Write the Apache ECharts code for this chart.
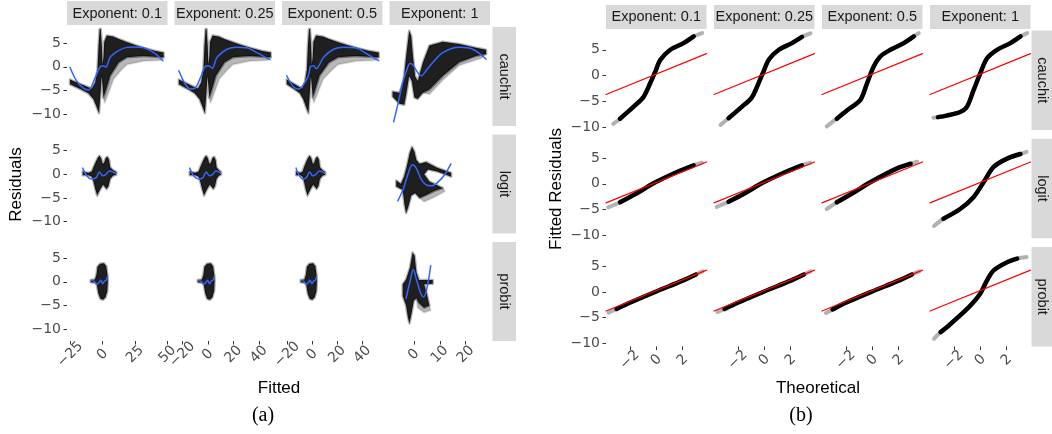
<!DOCTYPE html>
<html><head><meta charset="utf-8">
<script src="https://cdn.jsdelivr.net/npm/echarts@6/dist/echarts.min.js"></script>
<style>html,body{margin:0;padding:0;background:#fff}#c{width:1052px;height:434px}</style>
</head><body><div id="c"></div>
<script>
// ---------- labels & ticks ----------
const exponentLabels = ['Exponent: 0.1', 'Exponent: 0.25', 'Exponent: 0.5', 'Exponent: 1'];
const linkLabels = ['cauchit', 'logit', 'probit'];
const fittedTicks = [[-25, 0, 25, 50], [-20, 0, 20, 40], [-20, 0, 20, 40], [0, 10, 20]];
const residualTicks = [-10, -5, 0, 5];
const theoreticalTicks = [-2, 0, 2];

// ---------- (a) residual clouds (outline of the dense point cloud) ----------
const cauchitCloud01 = [[-25.2,-2.7],[-17.4,-3.6],[-11,-4.3],[-8.4,-4.6],[-5.8,-3.3],[-4.0,-0.5],[-3.2,4.4],[-2.3,8.0],[-1.5,8.0],[-0.6,4.4],[-0.1,0.5],[0.6,2.0],[1.2,5.3],[3.2,6.6],[8,6.4],[12,5.9],[19,5.2],[25,4.6],[32,4.0],[40,3.4],[47,3.0],[47,2.0],[40,2.1],[31.6,2.3],[18.7,2.0],[12.3,0.9],[5.8,-1.9],[1.9,-5.5],[0.6,-6.5],[-0.1,-4],[-0.8,-2],[-1.5,-5],[-2.8,-9.8],[-4.5,-8.6],[-7.1,-6.85],[-11,-5.6],[-17.4,-4.7],[-25.2,-3.7]];
const cauchitCloud025 = [[-22.7,-2.7],[-15.8,-3.6],[-10.3,-4.3],[-7.8,-4.6],[-5.3,-3.3],[-3.5,-0.5],[-2.7,4.4],[-1.8,8.0],[-1.0,8.0],[-0.1,4.4],[0.4,0.5],[1.1,2.0],[1.7,5.3],[3.7,6.6],[8.5,6.4],[12.6,5.9],[19.9,5.2],[26.2,4.6],[33.5,4.0],[41.8,3.4],[49.2,3.0],[49.2,2.0],[41.8,2.1],[33,2.3],[19.6,2.0],[12.9,0.9],[6.3,-1.9],[2.4,-5.5],[1.1,-6.5],[0.4,-4],[-0.3,-2],[-1.0,-5],[-2.3,-9.8],[-4.0,-8.6],[-6.5,-6.85],[-10.3,-5.6],[-15.8,-4.7],[-22.7,-3.7]];
const cauchitCloud05 = [[-20.2,-2.7],[-14.5,-3.6],[-9.8,-4.3],[-8.0,-4.6],[-5.8,-3.3],[-4.2,-0.5],[-3.4,4.4],[-2.5,8.0],[-1.7,8.0],[-0.8,4.4],[-0.3,0.5],[0.4,2.0],[1.0,5.3],[3.1,6.6],[8.5,6.4],[13,5.9],[20.9,5.2],[27.8,4.6],[35.8,4.0],[44.8,3.4],[53,3.0],[53,2.0],[44.8,2.1],[35.3,2.3],[20.6,2.0],[13.4,0.9],[5.8,-1.9],[1.7,-5.5],[0.4,-6.5],[-0.3,-4],[-1.0,-2],[-1.7,-5],[-3.0,-9.8],[-4.7,-8.6],[-7.1,-6.85],[-9.8,-5.6],[-14.5,-4.7],[-20.2,-3.7]];
const cauchitCloud1 = [[-8.2,-5.2],[-5.6,-5.5],[-4,-3],[-2.8,3],[-1.8,7.6],[-1.0,6.5],[-0.3,2],[0.5,-2],[1.5,-3],[3.5,0.9],[6,4.5],[11.2,5.3],[17.6,4.8],[24,4.0],[27.9,3.6],[27.9,2.7],[24,2.3],[17.6,1.0],[11.2,-1.9],[6,-4.8],[3.5,-5.5],[1.5,-6.8],[0.2,-6.5],[-0.8,-3],[-1.8,-2],[-3,-6],[-3.7,-8.0],[-5.6,-7.8],[-8.2,-6.3]];
const cauchitHalo01 = [[0.6,-6.5],[1.9,-5.5],[5.8,-1.9],[12.3,0.9],[18.7,2.0],[31.6,2.3],[47,2.0],[45,1.4],[31.6,1.2],[18.7,0.5],[15,-0.5],[8.4,-2.6],[3.2,-6.5],[1.5,-7.6]];
const cauchitHalo025 = [[1.1,-6.5],[2.4,-5.5],[6.3,-1.9],[12.9,0.9],[19.6,2.0],[33,2.3],[49.2,2.0],[47,1.4],[33,1.2],[19.6,0.5],[15.7,-0.5],[8.9,-2.6],[3.7,-6.5],[2.0,-7.6]];
const cauchitHalo05 = [[0.4,-6.5],[1.7,-5.5],[5.8,-1.9],[13.4,0.9],[20.6,2.0],[35.3,2.3],[53,2.0],[50.6,1.4],[35.3,1.2],[20.6,0.5],[16.5,-0.5],[8.8,-2.6],[3.0,-6.5],[1.3,-7.6]];
const cauchitHalo1 = [[3.5,-5.5],[6,-4.8],[11.2,-1.9],[17.6,1.0],[24,2.3],[27.9,2.7],[26,1.8],[17.6,0.3],[11.2,-2.8],[6,-5.8]];

const logitCloud01 = [[-15.4,0.6],[-11,0.3],[-8.4,0.6],[-7.1,1.5],[-5,2.8],[-3.5,3.6],[-2.5,3.9],[-1.2,3.4],[0,2.2],[1,2.4],[2.5,3.5],[3.7,3.7],[5,3.0],[5.8,1.5],[7.9,0.9],[10.5,0.5],[10.5,-0.1],[7.9,-0.3],[5.8,-1.0],[4.5,-2.5],[3,-3.1],[1.5,-2.6],[0.3,-2.2],[-1.5,-3.0],[-3,-3.8],[-4.2,-4.5],[-5.5,-3.3],[-7.1,-1.5],[-8.4,-0.5],[-11,-0.2],[-15.4,-0.2]];
const logitCloud025 = [[-14.2,0.6],[-10,0.3],[-7.3,0.6],[-6,1.5],[-3.9,2.8],[-2.4,3.6],[-1.3,3.9],[0,3.4],[1.2,2.2],[2.2,2.4],[3.7,3.5],[4.9,3.7],[6.1,3.0],[6.8,1.5],[8.5,0.9],[10.3,0.5],[10.3,-0.1],[8.5,-0.3],[6.8,-1.0],[5.6,-2.5],[4.2,-3.1],[2.7,-2.6],[1.5,-2.2],[-0.3,-3.0],[-1.8,-3.8],[-3,-4.5],[-4.3,-3.3],[-6,-1.5],[-7.3,-0.5],[-10,-0.2],[-14.2,-0.2]];
const logitCloud05 = [[-12.8,0.6],[-9.5,0.3],[-7.6,0.6],[-6.5,1.5],[-4.5,2.8],[-3,3.6],[-2,3.9],[-0.7,3.4],[0.5,2.2],[1.5,2.4],[3,3.5],[4.2,3.7],[5.5,3.0],[6.2,1.5],[8.2,0.9],[10.4,0.5],[10.4,-0.1],[8.2,-0.3],[6.2,-1.0],[5,-2.5],[3.5,-3.1],[2,-2.6],[0.8,-2.2],[-1,-3.0],[-2.5,-3.8],[-3.7,-4.5],[-5,-3.3],[-6.5,-1.5],[-7.6,-0.5],[-9.5,-0.2],[-12.8,-0.2]];
const logitCloud1 = [[-6.8,-1.3],[-5,-2],[-3.8,-0.5],[-2.8,1.5],[-1.6,4.5],[-0.7,5.8],[0.2,4.8],[1,3],[2.2,2.2],[4.7,2.6],[9,1.4],[14.4,0.3],[14.4,-0.5],[9,0.6],[5.5,1.0],[4,0],[6,-1.5],[9,-2.3],[11.2,-2.9],[8,-3.5],[5,-4.3],[2.2,-5.0],[0.5,-4],[-1,-4.5],[-2.2,-7],[-3,-8.2],[-3.6,-6.5],[-4.3,-3.3],[-6.8,-2.6]];
const logitHalo1 = [[2.2,-5.0],[5,-4.3],[8,-3.5],[11.2,-2.9],[12,-3.6],[8,-4.8],[4,-5.8]];

const probitCloud01 = [[-9.2,0.4],[-6,0.5],[-4.8,1.5],[-4,3.2],[-2,3.8],[1.0,3.9],[2.8,3.3],[3.7,1.5],[4.0,0.2],[3.6,-2],[2.2,-3.3],[0.3,-3.8],[-1.8,-3.6],[-3.3,-2.5],[-4.6,-0.5],[-6,-0.2],[-9.2,-0.1]];
const probitCloud025 = [[-7.9,0.4],[-4.7,0.5],[-3.5,1.5],[-2.7,3.2],[-0.7,3.8],[2.3,3.9],[4.1,3.3],[5,1.5],[5.3,0.2],[4.9,-2],[3.5,-3.3],[1.6,-3.8],[-0.5,-3.6],[-2,-2.5],[-3.3,-0.5],[-4.7,-0.2],[-7.9,-0.1]];
const probitCloud05 = [[-9.1,0.4],[-6.2,0.5],[-5,1.5],[-4.2,3.2],[-2.2,3.8],[0.8,3.9],[2.6,3.3],[3.5,1.5],[3.8,0.2],[3.4,-2],[2,-3.3],[0.1,-3.8],[-2,-3.6],[-3.5,-2.5],[-4.8,-0.5],[-6.2,-0.2],[-9.1,-0.1]];
const probitCloud1 = [[-4.3,-0.5],[-3,0.5],[-1.5,3],[-0.5,6.2],[0.3,5.5],[1,2],[2,0.4],[4,0.4],[7.3,0.4],[7.3,-0.4],[4,-0.5],[5,-2.5],[6,-5],[4,-5.5],[2,-4.5],[1,-3.5],[0,-4],[-1,-7],[-1.7,-8.8],[-2.3,-7.5],[-3,-5],[-4.3,-3]];
const probitHalo1 = [[1,-3.5],[4,-5.5],[6,-5],[6.5,-6],[4,-6.5],[1.5,-5.5]];

// ---------- (a) loess smooth lines ----------
const cauchitSmooth01 = [[-25.2,-0.1],[-20.5,-2.8],[-14.9,-4.5],[-11,-4.9],[-5.8,-2.3],[-1.9,0],[0.6,0.2],[2.5,-0.1],[5.8,2.0],[12.3,3.4],[18.7,4.1],[25,4.2],[31.6,4.0],[39.4,3.0],[46.4,1.3]];
const cauchitSmooth025 = [[-22.7,-0.85],[-18,-3.5],[-13.6,-4.7],[-10,-4.5],[-5.8,-2.3],[-1.9,0.1],[0.6,0.2],[3.3,-0.3],[7.2,2.0],[14.9,3.7],[22.7,4.1],[30.5,4.0],[38.3,3.0],[48.6,1.5]];
const cauchitSmooth05 = [[-20.2,-1.9],[-15,-4.2],[-11,-4.7],[-7,-3.8],[-3,-1.9],[-1.1,0.1],[1.1,0.2],[3.2,-0.4],[9.1,2.0],[17.1,3.7],[25.1,4.1],[35.7,3.9],[43.7,2.7],[53,1.3]];
const cauchitSmooth1 = [[-7.8,-11.6],[-6,-7.5],[-4.3,-3.3],[-2.8,-0.8],[-1.5,0.7],[-0.5,0.5],[1,-0.8],[2.8,-1.9],[5,-0.6],[7.3,0.9],[11.2,3.0],[17.6,4.1],[22.7,3.7],[27.9,1.6]];
const logitSmooth01 = [[-15.4,1.3],[-12.3,-0.3],[-8.4,-1.0],[-5.0,-0.7],[-2.5,0.5],[0.0,-0.3],[2.5,0.0],[5.3,0.7],[7.9,0.5],[9.7,0.2]];
const logitSmooth025 = [[-14.2,1.3],[-11.2,-0.3],[-7.3,-1.0],[-3.9,-0.7],[-1.3,0.5],[1.2,-0.3],[3.7,0.0],[6.3,0.7],[8.5,0.5],[10,0.2]];
const logitSmooth05 = [[-12.8,1.3],[-10.2,-0.3],[-7.2,-1.0],[-4.5,-0.7],[-2,0.5],[0.5,-0.3],[3,0.0],[5.8,0.7],[8.2,0.5],[10,0.2]];
const logitSmooth1 = [[-6.2,-5.6],[-4,-3],[-2,0.5],[-0.5,2.0],[1,1.2],[3,-1.2],[5,-2.3],[7,-2.4],[9.8,-1.4],[12,0],[14.3,2.2]];
const probitSmooth01 = [[-8.9,0.3],[-6.5,0.1],[-4.5,-0.5],[-2.8,-0.1],[-1.5,0.3],[0,-0.4],[1.5,0.2],[2.6,0.3],[3.7,1.1]];
const probitSmooth025 = [[-7.6,0.3],[-5.2,0.1],[-3.2,-0.5],[-1.5,-0.1],[-0.2,0.3],[1.3,-0.4],[2.8,0.2],[3.9,0.3],[5,1.1]];
const probitSmooth05 = [[-8.8,0.3],[-6.6,0.1],[-4.7,-0.5],[-3,-0.1],[-1.7,0.3],[-0.2,-0.4],[1.3,0.2],[2.4,0.3],[3.5,1.1]];
const probitSmooth1 = [[-3,-3.5],[-1.5,0],[-0.2,2.6],[1,0.5],[2.5,-2.2],[3.8,-3.2],[5,-1.5],[6.5,3.4]];

// ---------- (b) QQ curves ----------
const qqCauchit01 = [[-3.25,-9.4],[-2.74,-8.4],[-1.73,-6.1],[-0.97,-4.2],[-0.46,-1.5],[-0.08,0.7],[0.30,3.0],[1.06,5.0],[2.07,6.3],[2.83,7.6],[3.47,8.25]];
const qqCauchit025 = [[-3.3,-9.6],[-2.7,-8.3],[-1.7,-6.1],[-0.95,-4.3],[-0.45,-1.6],[-0.05,0.8],[0.35,3.1],[1.1,5.0],[2.1,6.3],[2.85,7.5],[3.5,8.2]];
const qqCauchit05 = [[-3.44,-9.9],[-2.68,-8.4],[-1.92,-6.8],[-0.91,-4.8],[-0.40,-1.55],[0.10,1.7],[0.61,3.7],[1.37,5.0],[2.38,6.3],[3.14,7.6],[3.52,8.25]];
const qqCauchit1 = [[-3.55,-8.2],[-3.2,-8.1],[-2.53,-7.8],[-1.52,-7.1],[-1.01,-6.1],[-0.51,-2.9],[0.0,0.4],[0.51,3.35],[1.27,5.0],[2.28,6.3],[3.04,7.6],[3.55,8.25]];
const qqLogit01 = [[-3.63,-4.6],[-2.74,-3.6],[-1.5,-1.9],[-0.21,0.1],[1.57,2.3],[2.83,3.6],[3.47,4.1]];
const qqLogit025 = [[-3.6,-4.5],[-2.7,-3.5],[-1.5,-1.9],[-0.2,0.1],[1.6,2.3],[2.85,3.6],[3.5,4.1]];
const qqLogit05 = [[-3.44,-4.9],[-2.68,-3.6],[-1.4,-1.7],[-0.15,0.3],[1.88,3.0],[2.9,3.9],[3.4,4.3]];
const qqLogit1 = [[-3.5,-8.2],[-2.79,-6.8],[-1.52,-4.9],[-0.51,-2.6],[0.25,0.3],[1.01,3.3],[2.03,4.9],[3.04,5.8],[3.5,6.2]];
const qqProbit01 = [[-3.6,-4.0],[-3.0,-3.3],[-2,-2.1],[0,0.1],[2,2.2],[3.0,3.4],[3.5,4.0]];
const qqProbit025 = [[-3.55,-3.9],[-3.0,-3.3],[-2,-2.1],[0,0.1],[2,2.2],[3.0,3.4],[3.5,4.0]];
const qqProbit05 = [[-3.5,-4.1],[-3.0,-3.4],[-2,-2.1],[0,0.1],[2,2.2],[3.0,3.4],[3.55,4.0]];
const qqProbit1 = [[-3.5,-9.1],[-3.0,-7.8],[-2.46,-6.7],[-0.92,-3.1],[-0.02,-0.4],[0.5,2.2],[1.01,4.2],[2.03,5.8],[2.79,6.5],[3.5,6.8]];
const qqLine = [[-3.8,-3.7],[3.8,4.25]];

// ---------- assemble ----------
const aClouds = [[cauchitCloud01, cauchitCloud025, cauchitCloud05, cauchitCloud1],
                 [logitCloud01, logitCloud025, logitCloud05, logitCloud1],
                 [probitCloud01, probitCloud025, probitCloud05, probitCloud1]];
const aHalos = [[cauchitHalo01, cauchitHalo025, cauchitHalo05, cauchitHalo1],
                [null, null, null, logitHalo1],
                [null, null, null, probitHalo1]];
const aSmooth = [[cauchitSmooth01, cauchitSmooth025, cauchitSmooth05, cauchitSmooth1],
                 [logitSmooth01, logitSmooth025, logitSmooth05, logitSmooth1],
                 [probitSmooth01, probitSmooth025, probitSmooth05, probitSmooth1]];
const bQQ = [[qqCauchit01, qqCauchit025, qqCauchit05, qqCauchit1],
             [qqLogit01, qqLogit025, qqLogit05, qqLogit1],
             [qqProbit01, qqProbit025, qqProbit05, qqProbit1]];

// layout
const A_LEFT = [67, 174.5, 282, 389.5], A_W = 100.5;
const A_TOP = [27, 134.5, 242], A_H = 99;
const A_XR = [[-27.5, 50], [-26.1, 52.5], [-24, 56], [-9.4, 29.4]];
const A_YR = [-12.5, 8.4];
const B_LEFT = [606, 714, 822, 930], B_W = 100.5;
const B_TOP = [30.5, 138.8, 247], B_H = 99.5;
const B_XR = [-3.8, 3.8];
const B_YR = [-10.6, 8.75];

const FONT = '"Liberation Sans", Arial, sans-serif';
const TICKFONT = '"DejaVu Sans", Verdana, sans-serif';
const fmt = v => String(v).replace('-', '\u2212');

const grids = [], xAxes = [], yAxes = [], series = [], graphics = [];

function addFacet(left, top, w, h, xr, yr, xt, yt, showX, showY) {
  const gi = grids.length;
  grids.push({left: left, top: top, width: w, height: h, containLabel: false});
  xAxes.push({type: 'value', gridIndex: gi, min: xr[0], max: xr[1],
    axisLine: {show: false, onZero: false}, splitLine: {show: false},
    axisTick: {show: showX, length: 3.5, lineStyle: {color: '#333', width: 1}, customValues: xt},
    axisLabel: {show: showX, customValues: xt, rotate: 45, align: 'center', verticalAlign: 'middle',
      margin: 13.5, color: '#4d4d4d', fontSize: 14, fontFamily: TICKFONT, formatter: fmt}});
  yAxes.push({type: 'value', gridIndex: gi, min: yr[0], max: yr[1],
    axisLine: {show: false, onZero: false}, splitLine: {show: false},
    axisTick: {show: showY, length: 3.5, lineStyle: {color: '#333', width: 1}, customValues: yt},
    axisLabel: {show: showY, customValues: yt, margin: 6, color: '#4d4d4d', fontSize: 14,
      fontFamily: TICKFONT, formatter: fmt}});
  return gi;
}

function polygon(gi, pts, fill, stroke, lw) {
  series.push({type: 'custom', xAxisIndex: gi, yAxisIndex: gi, data: [[0, 0]], silent: true, clip: true,
    renderItem: function (params, api) {
      const points = pts.map(p => api.coord(p));
      return {type: 'polygon', shape: {points: points},
        style: {fill: fill, stroke: stroke, lineWidth: lw, lineJoin: 'round'}};
    }});
}
function line(gi, pts, color, width, smooth) {
  series.push({type: 'line', xAxisIndex: gi, yAxisIndex: gi, data: pts, showSymbol: false, symbol: 'none',
    silent: true, smooth: smooth, lineStyle: {color: color, width: width, cap: 'round', join: 'round'}});
}

// (a)
for (let r = 0; r < 3; r++) {
  for (let c = 0; c < 4; c++) {
    const gi = addFacet(A_LEFT[c], A_TOP[r], A_W, A_H, A_XR[c], A_YR, fittedTicks[c], residualTicks, r === 2, c === 0);
    if (aHalos[r][c]) polygon(gi, aHalos[r][c], 'rgba(0,0,0,0.28)', 'rgba(0,0,0,0.12)', 2);
    polygon(gi, aClouds[r][c], 'rgba(0,0,0,0.88)', 'rgba(0,0,0,0.3)', 2.5);
    line(gi, aSmooth[r][c], '#3366FF', 1.5, 0.35);
  }
}
// (b)
for (let r = 0; r < 3; r++) {
  for (let c = 0; c < 4; c++) {
    const gi = addFacet(B_LEFT[c], B_TOP[r], B_W, B_H, B_XR, B_YR, theoreticalTicks, residualTicks, r === 2, c === 0);
    const q = bQQ[r][c];
    line(gi, q, 'rgba(0,0,0,0.3)', 4, 0.3);             // faded tails
    line(gi, q.slice(1, q.length - 1), '#000', 4.5, 0.3); // dense body
    line(gi, qqLine, '#FF0000', 1.2, false);
  }
}

// strips & titles
function rect(x, y, w, h) {
  graphics.push({type: 'rect', silent: true, shape: {x: x, y: y, width: w, height: h}, style: {fill: '#D9D9D9'}});
}
function text(str, x, y, rot, size, color, family) {
  graphics.push({type: 'text', silent: true, x: x, y: y, rotation: rot,
    style: {text: str, x: 0, y: 0, font: 'normal ' + size + 'px ' + (family || FONT), fill: color,
      align: 'center', verticalAlign: 'middle', textAlign: 'center', textVerticalAlign: 'middle'}});
}
for (let c = 0; c < 4; c++) {
  rect(A_LEFT[c], 1, A_W, 24); text(exponentLabels[c], A_LEFT[c] + A_W / 2, 13.5, 0, 14.5, '#1a1a1a');
  rect(B_LEFT[c], 5, B_W, 24); text(exponentLabels[c], B_LEFT[c] + B_W / 2, 17, 0, 14.5, '#1a1a1a');
}
for (let r = 0; r < 3; r++) {
  rect(492.5, A_TOP[r], 23.5, A_H); text(linkLabels[r], 504, A_TOP[r] + A_H / 2, -Math.PI / 2, 14.5, '#1a1a1a');
  rect(1031.5, B_TOP[r], 24, B_H); text(linkLabels[r], 1042, B_TOP[r] + B_H / 2, -Math.PI / 2, 14.5, '#1a1a1a');
}
text('Residuals', 16.5, 184.5, Math.PI / 2, 17, '#000');
text('Fitted', 279, 388, 0, 17, '#000');
text('Fitted Residuals', 556, 189, Math.PI / 2, 17, '#000');
text('Theoretical', 818, 388, 0, 17, '#000');
text('(a)', 263, 416, 0, 20, '#000', '"Liberation Serif", "Times New Roman", serif');
text('(b)', 801, 416, 0, 20, '#000', '"Liberation Serif", "Times New Roman", serif');

const chart = echarts.init(document.getElementById('c'), null, {renderer: 'canvas'});
chart.setOption({animation: false, backgroundColor: '#fff', grid: grids, xAxis: xAxes, yAxis: yAxes,
  series: series, graphic: {elements: graphics}});
</script></body></html>
